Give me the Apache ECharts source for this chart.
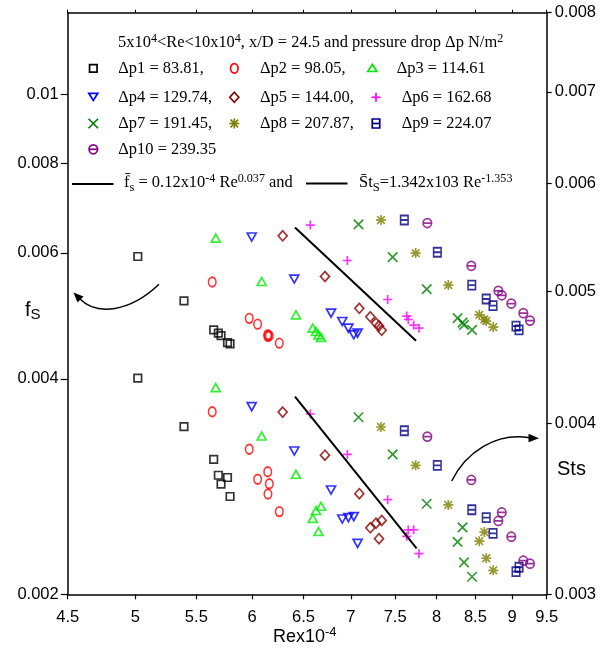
<!DOCTYPE html>
<html>
<head>
<meta charset="utf-8">
<script src="https://cdn.jsdelivr.net/npm/echarts@6/dist/echarts.min.js"></script>
<style>
  html, body { margin: 0; padding: 0; background: #ffffff; }
  #chart { width: 605px; height: 652px; }
</style>
</head>
<body>
<div id="chart"></div>
<script>
// Axis ticks
const reTicks = [4.5, 5, 5.5, 6, 6.5, 7, 7.5, 8, 8.5, 9, 9.5];
const fsTicks = [0.002, 0.004, 0.006, 0.008, 0.01];
const stsTicks = [0.003, 0.004, 0.005, 0.006, 0.007, 0.008];

// Pressure drop legend labels
const dpLabels = [
  'Δp1 = 83.81,', 'Δp2 = 98.05,', 'Δp3 = 114.61',
  'Δp4 = 129.74,', 'Δp5 = 144.00,', 'Δp6 = 162.68',
  'Δp7 = 191.45,', 'Δp8 = 207.87,', 'Δp9 = 224.07',
  'Δp10 = 239.35'
];

// Re x 10^-4, friction factor fs and Stanton number Sts for each pressure drop
const re1 = [5.02, 5.395, 5.651, 5.692, 5.716, 5.774, 5.797];
const fs1 = [0.005932, 0.005143, 0.004685, 0.004635, 0.004599, 0.004497, 0.004478];
const sts1 = [0.004319, 0.003980, 0.003767, 0.003667, 0.003612, 0.003653, 0.003538];

const re2 = [5.638, 5.973, 6.052, 6.148, 6.163, 6.150, 6.260];
const fs2 = [0.005463, 0.004861, 0.004771, 0.004610, 0.004595, 0.004587, 0.004488];
const sts2 = [0.004082, 0.003831, 0.003642, 0.003689, 0.003615, 0.003553, 0.003449];

const re3 = [5.669, 6.090, 6.425, 6.595, 6.629, 6.655, 6.681];
const fs3 = [0.006294, 0.005473, 0.004916, 0.004710, 0.004659, 0.004610, 0.004573];
const sts3 = [0.004251, 0.003918, 0.003673, 0.003410, 0.003455, 0.003335, 0.003480];

const re4 = [5.996, 6.408, 6.786, 6.906, 6.972, 7.031, 7.073];
const fs4 = [0.006315, 0.005516, 0.004943, 0.004812, 0.004710, 0.004610, 0.004635];
const sts4 = [0.004117, 0.003820, 0.003577, 0.003406, 0.003414, 0.003420, 0.003269];

const re5 = [6.293, 6.722, 7.092, 7.215, 7.279, 7.313, 7.344];
const fs5 = [0.006341, 0.005562, 0.005020, 0.004885, 0.004787, 0.004745, 0.004677];
const sts5 = [0.004079, 0.003793, 0.003555, 0.003356, 0.003382, 0.003295, 0.003398];

const re6 = [6.570, 6.961, 7.413, 7.636, 7.655, 7.720, 7.784];
const fs6 = [0.006563, 0.005856, 0.005165, 0.004896, 0.004843, 0.004756, 0.004710];
const sts6 = [0.004066, 0.003798, 0.003519, 0.003308, 0.003344, 0.003345, 0.003213];

const re7 = [7.083, 7.471, 7.878, 8.267, 8.331, 8.350, 8.456];
const fs7 = [0.006576, 0.005921, 0.005342, 0.004864, 0.004795, 0.004761, 0.004685];
const sts7 = [0.004044, 0.003799, 0.003495, 0.003277, 0.003359, 0.003166, 0.003090];

const re8 = [7.336, 7.744, 8.148, 8.552, 8.619, 8.645, 8.741];
const fs8 = [0.006670, 0.005997, 0.005410, 0.004916, 0.004843, 0.004819, 0.004727];
const sts8 = [0.003978, 0.003729, 0.003488, 0.003281, 0.003332, 0.003188, 0.003124];

const re9 = [7.608, 8.010, 8.452, 8.645, 8.737, 9.056, 9.099];
const fs9 = [0.006670, 0.006013, 0.005410, 0.005173, 0.005064, 0.004741, 0.004685];
const sts9 = [0.003953, 0.003729, 0.003460, 0.003414, 0.003325, 0.003117, 0.003140];

const re10 = [7.886, 8.446, 8.810, 8.857, 8.990, 9.160, 9.256];
const fs10 = [0.006606, 0.005757, 0.005312, 0.005235, 0.005099, 0.004943, 0.004826];
const sts10 = [0.003914, 0.003638, 0.003395, 0.003444, 0.003306, 0.003175, 0.003159];

// Trend lines (end points)
const fsFitRe = [6.415, 7.748];
const fsFit = [0.006513, 0.004522];
const stsFitRe = [6.415, 7.755];
const stsFit = [0.004187, 0.003242];

// Marker shapes in a 10x10 box: closed outlines, open strokes, optional ellipse
const SHAPES = {
  square:   { closed: [[[0, 0], [10, 0], [10, 10], [0, 10]]], open: [], ellipse: false },
  circle:   { closed: [], open: [], ellipse: true },
  triUp:    { closed: [[[5, 0], [10, 9], [0, 9]]], open: [], ellipse: false },
  triDown:  { closed: [[[0, 0], [10, 0], [5, 9]]], open: [], ellipse: false },
  diamond:  { closed: [[[5, 0], [10, 5], [5, 10], [0, 5]]], open: [], ellipse: false },
  plus:     { closed: [], open: [[0, 5, 10, 5], [5, 0, 5, 10]], ellipse: false },
  cross:    { closed: [], open: [[0, 0, 10, 10], [0, 10, 10, 0]], ellipse: false },
  star:     { closed: [], open: [[0, 5, 10, 5], [5, 0, 5, 10], [1.2, 1.2, 8.8, 8.8], [1.2, 8.8, 8.8, 1.2]], ellipse: false },
  boxBar:   { closed: [[[0, 0], [10, 0], [10, 10], [0, 10]]], open: [[0, 5, 10, 5]], ellipse: false },
  circleBar:{ closed: [], open: [[0, 5, 10, 5]], ellipse: true }
};

function shapePath(s) {
  let d = '';
  if (s.ellipse) d += 'M0,5A5,5,0,1,1,10,5A5,5,0,1,1,0,5Z';
  s.closed.forEach(p => { d += 'M' + p.map(q => q.join(',')).join('L') + 'Z'; });
  s.open.forEach(l => { d += 'M' + l[0] + ',' + l[1] + 'L' + l[2] + ',' + l[3]; });
  return 'path://' + d;
}

const groups = [
  { re: re1, fs: fs1, sts: sts1, color: '#000000', shape: 'square', size: [7.5, 7.5] },
  { re: re2, fs: fs2, sts: sts2, color: '#ff0000', shape: 'circle', size: [7.5, 9.5] },
  { re: re3, fs: fs3, sts: sts3, color: '#00ee00', shape: 'triUp', size: [9, 8] },
  { re: re4, fs: fs4, sts: sts4, color: '#0000ff', shape: 'triDown', size: [9, 8] },
  { re: re5, fs: fs5, sts: sts5, color: '#8b0000', shape: 'diamond', size: [9, 10] },
  { re: re6, fs: fs6, sts: sts6, color: '#ff00ff', shape: 'plus', size: [9, 9] },
  { re: re7, fs: fs7, sts: sts7, color: '#008000', shape: 'cross', size: [9.5, 9.5] },
  { re: re8, fs: fs8, sts: sts8, color: '#808000', shape: 'star', size: [10, 10] },
  { re: re9, fs: fs9, sts: sts9, color: '#000080', shape: 'boxBar', size: [7.5, 9] },
  { re: re10, fs: fs10, sts: sts10, color: '#800080', shape: 'circleBar', size: [8.5, 9] }
];

const fmt = v => String(+(+v).toPrecision(4));
const SANS = 'Liberation Sans';
const SERIF = 'Liberation Serif';
const tickFont = { fontFamily: SANS, fontSize: 16.5, color: '#000' };
const axisLine = { show: true, lineStyle: { color: '#000', width: 1.5 } };
const MARK_W = 1.7;

const series = [];
groups.forEach((g, k) => {
  const common = {
    type: 'scatter',
    name: dpLabels[k],
    symbol: shapePath(SHAPES[g.shape]),
    symbolSize: g.size,
    itemStyle: { color: 'rgba(0,0,0,0)', borderColor: g.color, borderWidth: MARK_W },
    silent: true,
    animation: false
  };
  series.push(Object.assign({}, common, {
    xAxisIndex: 0, yAxisIndex: 0,
    data: g.re.map((r, i) => [r, g.fs[i]])
  }));
  series.push(Object.assign({}, common, {
    xAxisIndex: 0, yAxisIndex: 1,
    data: g.re.map((r, i) => [r, g.sts[i]])
  }));
});
series.push({
  type: 'line', xAxisIndex: 0, yAxisIndex: 0, symbol: 'none', silent: true, animation: false,
  lineStyle: { color: '#000', width: 2 },
  data: fsFitRe.map((r, i) => [r, fsFit[i]])
});
series.push({
  type: 'line', xAxisIndex: 0, yAxisIndex: 1, symbol: 'none', silent: true, animation: false,
  lineStyle: { color: '#000', width: 2 },
  data: stsFitRe.map((r, i) => [r, stsFit[i]])
});

// Legend block
const rich = {
  n: { fontFamily: SERIF, fontSize: 17, lineHeight: 22, color: '#000' },
  u: { fontFamily: SERIF, fontSize: 12.5, lineHeight: 8, verticalAlign: 'top', color: '#000' },
  d: { fontFamily: SERIF, fontSize: 13, lineHeight: 16, verticalAlign: 'bottom', color: '#000' }
};
const graphic = [];
function richText(x, y, text) {
  graphic.push({
    type: 'text', x: x, y: y, scaleX: 0.967, silent: true,
    style: { text: text, rich: rich, textAlign: 'left', textVerticalAlign: 'middle', fill: '#000' }
  });
}
function legendMarker(shapeName, cx, cy, w, h, color) {
  const s = SHAPES[shapeName];
  const px = x => cx - w / 2 + x * w / 10;
  const py = y => cy - h / 2 + y * h / 10;
  const style = { fill: null, stroke: color, lineWidth: MARK_W };
  if (s.ellipse) {
    graphic.push({ type: 'ellipse', silent: true, shape: { cx: cx, cy: cy, rx: w / 2, ry: h / 2 }, style: style });
  }
  s.closed.forEach(p => {
    graphic.push({ type: 'polygon', silent: true, shape: { points: p.map(q => [px(q[0]), py(q[1])]) }, style: style });
  });
  s.open.forEach(l => {
    graphic.push({ type: 'line', silent: true, shape: { x1: px(l[0]), y1: py(l[1]), x2: px(l[2]), y2: py(l[3]) }, style: style });
  });
}

richText(118, 43, '{n|5x10}{u|4}{n|<Re<10x10}{u|4}{n|, x/D = 24.5 and pressure drop Δp N/m}{u|2}');

const markX = [93.3, 234.3, 372.3, 93.3, 234.3, 376, 93.3, 234.3, 376, 93.3];
const textX = [118.3, 260, 396.7, 118.3, 260, 401.7, 118.3, 260, 401.7, 118.3];
const rowY = [68.3, 97.3, 123.5, 149.3];
dpLabels.forEach((lab, k) => {
  const g = groups[k];
  const cy = rowY[Math.floor(k / 3)];
  legendMarker(g.shape, markX[k], cy, g.size[0], g.size[1], g.color);
  richText(textX[k], cy + 0.5, '{n|' + lab + '}');
});
graphic.push({ type: 'line', silent: true, shape: { x1: 72, y1: 184, x2: 113.5, y2: 184 },
  style: { stroke: '#000', lineWidth: 2 } });
richText(124, 183, '{n|f\u0304}{d|s}{n| = 0.12x10}{u|-4}{n| Re}{u|0.037}{n| and}');
graphic.push({ type: 'line', silent: true, shape: { x1: 306, y1: 183.5, x2: 347.5, y2: 183.5 },
  style: { stroke: '#000', lineWidth: 2 } });
richText(359, 183, '{n|S\u0304t}{d|S}{n|=1.342x103 Re}{u|-1.353}');

// Axis names
graphic.push({
  type: 'text', x: 25, y: 310, silent: true,
  style: {
    text: '{a|f}{b|S}', textVerticalAlign: 'middle',
    rich: {
      a: { fontFamily: SANS, fontSize: 20, lineHeight: 24, color: '#000' },
      b: { fontFamily: SANS, fontSize: 15, lineHeight: 14, verticalAlign: 'bottom', color: '#000' }
    }
  }
});
graphic.push({
  type: 'text', x: 557, y: 469, silent: true,
  style: { text: 'Sts', font: '20px ' + SANS, fill: '#000', textVerticalAlign: 'middle' }
});
graphic.push({
  type: 'text', x: 273, y: 637, silent: true,
  style: {
    text: '{a|Rex10}{b|-4}', textVerticalAlign: 'middle',
    rich: {
      a: { fontFamily: SANS, fontSize: 18, lineHeight: 22, color: '#000' },
      b: { fontFamily: SANS, fontSize: 13, lineHeight: 10, verticalAlign: 'top', color: '#000' }
    }
  }
});

// Curved arrows pointing at the axes
graphic.push({ type: 'bezierCurve', silent: true,
  shape: { x1: 159, y1: 284.3, cpx1: 130, cpy1: 312, cpx2: 97, cpy2: 316, x2: 80, y2: 299 },
  style: { stroke: '#000', lineWidth: 1.5, fill: null } });
graphic.push({ type: 'polygon', silent: true,
  shape: { points: [[73.5, 292.5], [83.5, 296.5], [77.5, 302.5]] },
  style: { fill: '#000' } });
graphic.push({ type: 'bezierCurve', silent: true,
  shape: { x1: 451.7, y1: 481, cpx1: 466, cpy1: 452, cpx2: 496, cpy2: 432, x2: 530, y2: 437.8 },
  style: { stroke: '#000', lineWidth: 1.5, fill: null } });
graphic.push({ type: 'polygon', silent: true,
  shape: { points: [[539, 438.3], [528.5, 433.8], [528.5, 442.3]] },
  style: { fill: '#000' } });

const chart = echarts.init(document.getElementById('chart'), null, { renderer: 'canvas' });
chart.setOption({
  animation: false,
  backgroundColor: '#ffffff',
  grid: { left: 67.7, right: 58.3, top: 12.7, bottom: 57.7, containLabel: false },
  xAxis: [
    {
      type: 'log', logBase: 10, min: 4.5, max: 9.5, position: 'bottom',
      axisLine: axisLine,
      axisTick: { show: true, inside: false, length: 5, customValues: reTicks, lineStyle: { color: '#000', width: 1.2 } },
      axisLabel: Object.assign({ show: true, margin: 14.5, customValues: reTicks, formatter: fmt }, tickFont),
      splitLine: { show: false }, minorTick: { show: false }
    },
    {
      type: 'log', logBase: 10, min: 4.5, max: 9.5, position: 'top',
      axisLine: axisLine,
      axisTick: { show: true, inside: false, length: 3, customValues: reTicks, lineStyle: { color: '#000', width: 1 } },
      axisLabel: { show: false },
      splitLine: { show: false }
    }
  ],
  yAxis: [
    {
      type: 'log', logBase: 10, min: 0.002, max: 0.0130, position: 'left',
      axisLine: axisLine,
      axisTick: { show: true, inside: false, length: 7, customValues: fsTicks, lineStyle: { color: '#000', width: 1.2 } },
      axisLabel: Object.assign({ show: true, margin: 9, customValues: fsTicks, formatter: fmt }, tickFont),
      splitLine: { show: false }, minorTick: { show: false }
    },
    {
      type: 'log', logBase: 10, min: 0.003, max: 0.008, position: 'right',
      axisLine: axisLine,
      axisTick: { show: true, inside: false, length: 5, customValues: stsTicks, lineStyle: { color: '#000', width: 1.2 } },
      axisLabel: Object.assign({ show: true, margin: 8, customValues: stsTicks, formatter: fmt }, tickFont),
      splitLine: { show: false }, minorTick: { show: false }
    }
  ],
  graphic: graphic,
  series: series
});
</script>
</body>
</html>
